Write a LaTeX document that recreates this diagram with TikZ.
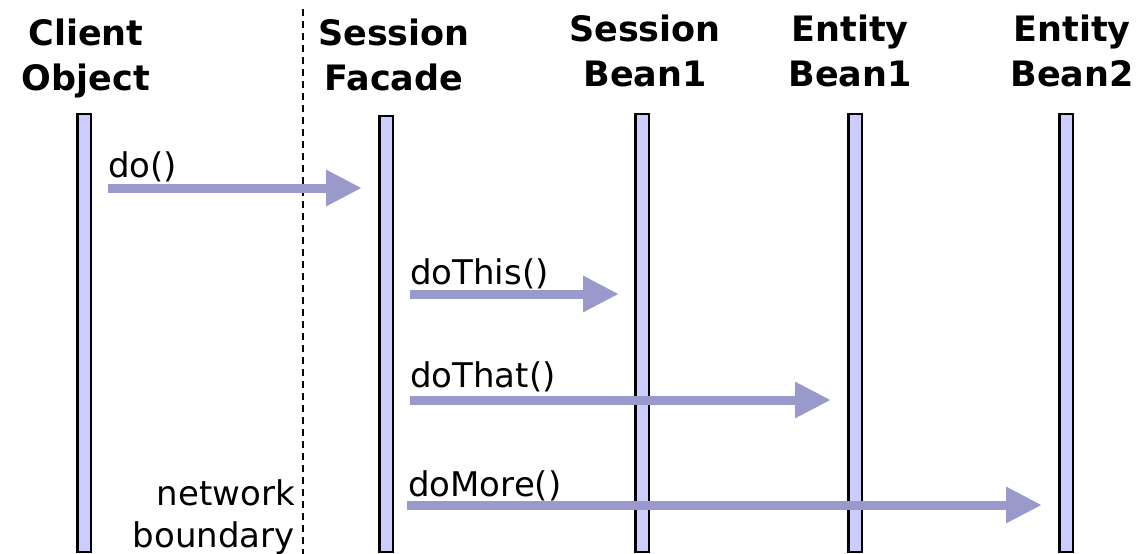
\documentclass[tikz,border=0pt]{standalone}
\usepackage{fontspec}
\setmainfont{DejaVu Sans}
\usetikzlibrary{arrows.meta}
\definecolor{lifefill}{HTML}{CCCCFF}
\definecolor{callcolor}{HTML}{9999CC}
\tikzset{
  head/.style={font=\fontsize{35}{45}\selectfont\bfseries, align=center, inner sep=0pt},
  lbl/.style={font=\fontsize{34}{42}\selectfont, inner sep=0pt},
  life/.style={draw, line width=2.5pt, fill=lifefill, inner sep=0pt, minimum width=13.5pt},
  call/.style={line width=9pt, callcolor, -{Triangle[length=36pt, width=34pt]}},
  netline/.style={line width=2.5pt, dash pattern=on 7pt off 5pt}
}
\newcommand{\lifeline}[3]{\node[life, minimum height={551-#3}] (#1) at (#2, {(553+#3)/2}) {}}
\newcommand{\callarrow}[2]{\draw[call] (#1) -- (#2)}

\begin{document}
\begin{tikzpicture}[x=1pt, y=-1pt]
    \useasboundingbox (0,0) rectangle (1146,554);

    % objects
    \node[head, anchor=base] (hclient) at (86,90) {Client\\Object};
    \node[head, anchor=base] (hfacade) at (394,90) {Session\\Facade};
    \node[head, anchor=base] (hsbean) at (645,86) {Session\\Bean1};
    \node[head, anchor=base] (hebean1) at (850,86) {Entity\\Bean1};
    \node[head, anchor=base] (hebean2) at (1072,86) {Entity\\Bean2};

    % network boundary
    \coordinate (btop) at (303,9);
    \coordinate (bbot) at (303,554);
    \draw[netline] (btop) -- (bbot);
    \node[lbl, anchor=base east, align=right] (netnote) at (295,547) {network\\boundary};

    % lifelines
    \lifeline{client}{84}{113};
    \lifeline{facade}{386}{115};
    \lifeline{sbean}{642}{113};
    \lifeline{ebean1}{855}{113};
    \lifeline{ebean2}{1066}{113};

    % calls
    \coordinate (do1) at (108,188);
    \coordinate (do2) at (362,188);
    \coordinate (this1) at (410,294);
    \coordinate (this2) at (619,294);
    \coordinate (that1) at (410,400);
    \coordinate (that2) at (831,400);
    \coordinate (more1) at (407,505);
    \coordinate (more2) at (1042,505);

    \callarrow{do1}{do2};
    \callarrow{this1}{this2};
    \callarrow{that1}{that2};
    \callarrow{more1}{more2};

    \node[lbl, anchor=base west] (ldo) at (108,177) {do()};
    \node[lbl, anchor=base west] (lthis) at (410,284) {doThis()};
    \node[lbl, anchor=base west] (lthat) at (410,387) {doThat()};
    \node[lbl, anchor=base west] (lmore) at (408,496) {doMore()};
\end{tikzpicture}
\end{document}
